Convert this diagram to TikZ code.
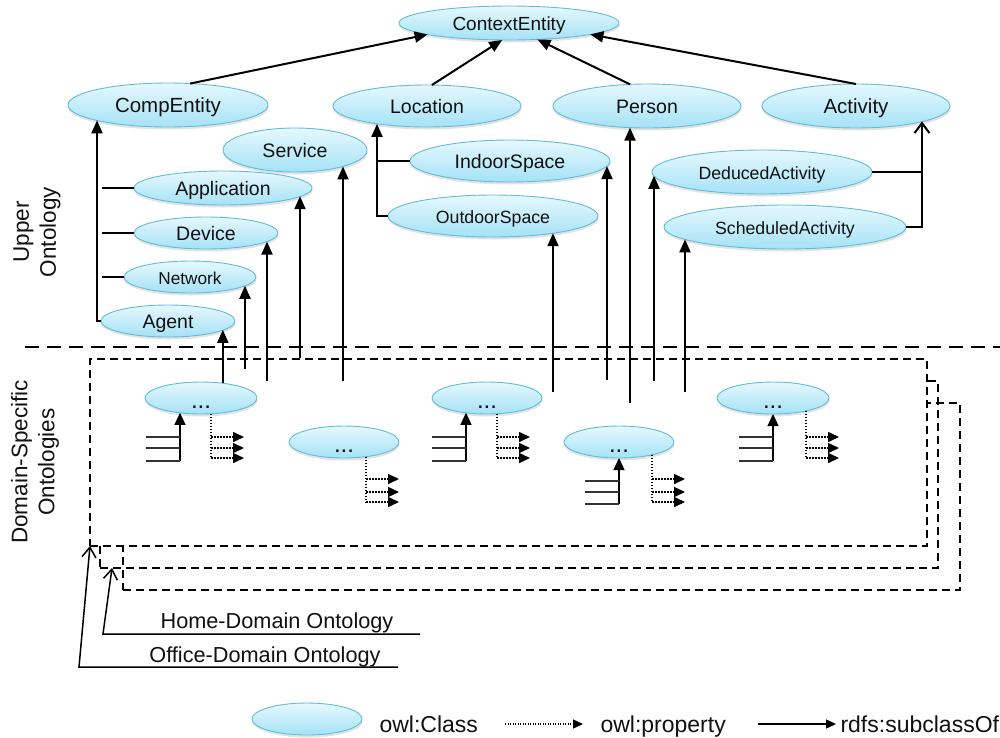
\documentclass[tikz,border=0pt]{standalone}
\usepackage{fontspec}
\setmainfont{Liberation Sans}
\usetikzlibrary{arrows.meta,shadows,shapes.geometric}
\definecolor{ellTop}{HTML}{E6F8FE}
\definecolor{ellBot}{HTML}{A4E2F6}
\definecolor{ellLine}{HTML}{62BCD8}
\definecolor{txt}{HTML}{111111}
\tikzset{
  cls/.style={ellipse, draw=ellLine, line width=0.9pt, top color=ellTop, bottom color=ellBot,
    inner sep=0pt, outer sep=0pt, text=txt, text height=15pt, text depth=1pt,
    drop shadow={shadow xshift=0.5pt, shadow yshift=-2.5pt, opacity=0.22}},
  fA/.style={font=\fontsize{19.5}{22}\selectfont},
  fB/.style={font=\fontsize{20.5}{22}\selectfont},
  fC/.style={font=\fontsize{17.7}{20}\selectfont},
  fD/.style={font=\fontsize{17.2}{20}\selectfont},
  fE/.style={font=\fontsize{19}{22}\selectfont},
  fdots/.style={font=\fontsize{24}{24}\selectfont},
  dbox/.style={draw, rectangle, line width=1.5pt, dash pattern=on 8pt off 5pt, inner sep=0pt, outer sep=0pt},
  sepline/.style={line width=2.8pt, dash pattern=on 14pt off 8pt},
  sub/.style={line width=2pt, -{Triangle[length=13pt,width=11pt]}},
  subopen/.style={line width=2pt, -{Straight Barb[length=10pt,width=15pt]}},
  branch/.style={line width=2pt},
  comb/.style={line width=1.2pt, draw=black!80},
  combarr/.style={line width=1.2pt, -{Triangle[length=12pt,width=11pt]}},
  prop/.style={line width=1.6pt, dash pattern=on 1.6pt off 1.4pt},
  proparr/.style={line width=1.6pt, dash pattern=on 1.6pt off 1.4pt, -{Triangle[length=11pt,width=10pt]}},
  openarr/.style={line width=1.5pt, -{Straight Barb[length=10pt,width=14pt]}},
  sidelab/.style={font=\fontsize{22.5}{27}\selectfont, align=center, text=txt},
  bot/.style={font=\fontsize{21.7}{24}\selectfont, text=txt},
  leg/.style={font=\fontsize{23}{26}\selectfont, text=txt},
}
\newcommand{\dotsmark}{\raisebox{-3pt}{...}}
\begin{document}
\begin{tikzpicture}[x=1pt,y=-1pt]
\useasboundingbox (0,0) rectangle (1000,737);
\fill[white] (0,0) rectangle (1000,737);

% domain-specific boxes
\node[dbox, minimum width=837pt, minimum height=187pt] (box3) at (541.5,496.5) {};
\node[dbox, minimum width=838pt, minimum height=187pt] (box2) at (519,474.5) {};
\node[dbox, fill=white, minimum width=837pt, minimum height=187pt] (box1) at (508.5,452.5) {};

% separator
\coordinate (sepL) at (25,347);
\coordinate (sepR) at (1000,347);
\draw[sepline] (sepL) -- (sepR);

% side labels
\node[sidelab, rotate=90] (upper) at (37,232) {Upper\\Ontology};
\node[sidelab, rotate=90] (domain) at (35,462) {Domain-Specific\\Ontologies};

% upper ontology classes
\node[cls, fE, minimum width=220pt, minimum height=34pt] (context) at (509,23) {ContextEntity};
\node[cls, fB, minimum width=200pt, minimum height=44pt] (compentity) at (168,105) {CompEntity};
\node[cls, fA, minimum width=188pt, minimum height=42pt] (location) at (427,106) {Location};
\node[cls, fA, minimum width=188pt, minimum height=44pt] (person) at (647,106) {Person};
\node[cls, fB, minimum width=188pt, minimum height=44pt] (activity) at (856,106) {Activity};
\node[cls, fA, minimum width=144pt, minimum height=44pt] (service) at (295,150) {Service};
\node[cls, fA, minimum width=178pt, minimum height=34pt] (application) at (223,188) {Application};
\node[cls, fA, minimum width=144pt, minimum height=32pt] (device) at (206,233) {Device};
\node[cls, fD, minimum width=132pt, minimum height=32pt] (network) at (190,277) {Network};
\node[cls, fA, minimum width=134pt, minimum height=32pt] (agent) at (168,321) {Agent};
\node[cls, fA, minimum width=200pt, minimum height=42pt] (indoor) at (510,161) {IndoorSpace};
\node[cls, fC, minimum width=210pt, minimum height=42pt] (outdoor) at (493,216) {OutdoorSpace};
\node[cls, fC, minimum width=220pt, minimum height=44pt] (deduced) at (762,172) {DeducedActivity};
\node[cls, fC, minimum width=242pt, minimum height=44pt] (sched) at (785,227) {ScheduledActivity};

% domain-specific classes
\node[cls, fdots, minimum width=112pt, minimum height=32pt] (d1) at (201,398) {\dotsmark};
\node[cls, fdots, minimum width=110pt, minimum height=32pt] (d2) at (344,442) {\dotsmark};
\node[cls, fdots, minimum width=110pt, minimum height=32pt] (d3) at (487,398) {\dotsmark};
\node[cls, fdots, minimum width=110pt, minimum height=32pt] (d4) at (619,442) {\dotsmark};
\node[cls, fdots, minimum width=112pt, minimum height=32pt] (d5) at (773,398) {\dotsmark};

% top-level subclass arrows
\draw[sub] (compentity.44) -- (context.-172);
\draw[sub] (location.77) -- (context.-112);
\draw[sub] (person.128) -- (context.-30);
\draw[sub] (activity.90) -- (context.-8);

% CompEntity trunk
\coordinate (tC) at (97,321);
\draw[sub] (agent.west) -- (tC) -- (tC |- compentity.-168);
\draw[branch] (application.west) -- ([xshift=5pt]tC |- application.west);
\draw[branch] (device.west) -- ([xshift=5pt]tC |- device.west);
\draw[branch] (network.west) -- ([xshift=5pt]tC |- network.west);

% Location trunk
\coordinate (tL) at (377,216);
\draw[sub] (outdoor.west) -- (tL) -- (tL |- location.-160);
\draw[branch] (indoor.west) -- (tL |- indoor.west);

% Activity trunk
\coordinate (tA) at (922,227);
\draw[subopen] (sched.east) -- (tA) -- (tA |- activity.-13);
\draw[branch] (deduced.east) -- (tA |- deduced.east);

% vertical arrows from the domain-specific ontologies
\coordinate (fNet) at (245,369);
\coordinate (fDev) at (267,381);
\coordinate (fApp) at (300,358);
\coordinate (fServ) at (343,381);
\coordinate (fOut) at (553,392);
\coordinate (fIn) at (607,380);
\coordinate (fPer) at (630,403);
\coordinate (fDed) at (654,381);
\coordinate (fSch) at (685,392);
\draw[sub] (d1.34) -- (d1.34 |- agent.-9);
\draw[sub] (fNet) -- (fNet |- network.-9);
\draw[sub] (fDev) -- (fDev |- device.-8);
\draw[sub] (fApp) -- (fApp |- application.-6);
\draw[sub] (fServ) -- (fServ |- service.-19);
\draw[sub] (fOut) -- (fOut |- outdoor.-16);
\draw[sub] (fIn) -- (fIn |- indoor.-3);
\draw[sub] (fPer) -- (fPer |- person.-128);
\draw[sub] (fDed) -- (fDed |- deduced.-178);
\draw[sub] (fSch) -- (fSch |- sched.-173);

% subclass combs
\coordinate (c1) at (180,461);
\coordinate (c3) at (466,461);
\coordinate (c4) at (619,504);
\coordinate (c5) at (773,461);
\draw[combarr] (c1) -- (c1 |- d1.-145);
\draw[combarr] (c3) -- (c3 |- d3.-145);
\draw[combarr] (c4) -- (d4.south);
\draw[combarr] (c5) -- (d5.south);
\foreach \c/\a/\b in {c1/13/24, c3/13/24, c4/12/23, c5/13/24}{
  \draw[comb] (\c) -- ++(-34,0) (\c) ++(0,-\a) -- ++(-34,0) (\c) ++(0,-\b) -- ++(-34,0);
}

% property arrows
\coordinate (p1) at (211,458);
\coordinate (p2) at (366,502);
\coordinate (p3) at (497,458);
\coordinate (p4) at (652,502);
\coordinate (p5) at (806,458);
\draw[prop] (p1 |- d1.-58) -- (p1);
\draw[prop] (p2 |- d2.-34) -- (p2);
\draw[prop] (p3 |- d3.-58) -- (p3);
\draw[prop] (p4 |- d4.-21) -- (p4);
\draw[prop] (p5 |- d5.-21) -- (p5);
\foreach \p/\a/\b in {p1/10/21, p2/10/23, p3/10/21, p4/10/23, p5/10/21}{
  \draw[proparr] (\p) -- ++(33,0);
  \draw[proparr] (\p) ++(0,-\a) -- ++(33,0);
  \draw[proparr] (\p) ++(0,-\b) -- ++(33,0);
}

% domain ontology labels
\node[bot, anchor=base] (home) at (277,628) {Home-Domain Ontology};
\node[bot, anchor=base] (office) at (265,662) {Office-Domain Ontology};
\coordinate (homeL) at (103,634);
\coordinate (homeR) at (420,634);
\coordinate (officeL) at (79,667);
\coordinate (officeR) at (398,667);
\draw[openarr] (homeR) -- (homeL) -- ([xshift=12pt]box2.south west);
\draw[openarr] (officeR) -- (officeL) -- (box1.south west);

% legend
\node[cls, minimum width=110pt, minimum height=32pt] (legcls) at (307,719) {};
\node[leg, anchor=base west] (legclst) at (376,732) {owl:Class};
\coordinate (lp1) at (505,724);
\coordinate (lp2) at (583,724);
\draw[line width=1.3pt, dash pattern=on 1.3pt off 1.2pt, -{Triangle[length=10pt,width=9pt]}] (lp1) -- (lp2);
\node[leg, anchor=base west] (legprop) at (597,732) {owl:property};
\coordinate (ls1) at (758,724);
\coordinate (ls2) at (836,724);
\draw[line width=1.3pt, -{Triangle[length=10pt,width=9pt]}] (ls1) -- (ls2);
\node[leg, anchor=base west] (legsub) at (837,732) {rdfs:subclassOf};
\end{tikzpicture}
\end{document}
